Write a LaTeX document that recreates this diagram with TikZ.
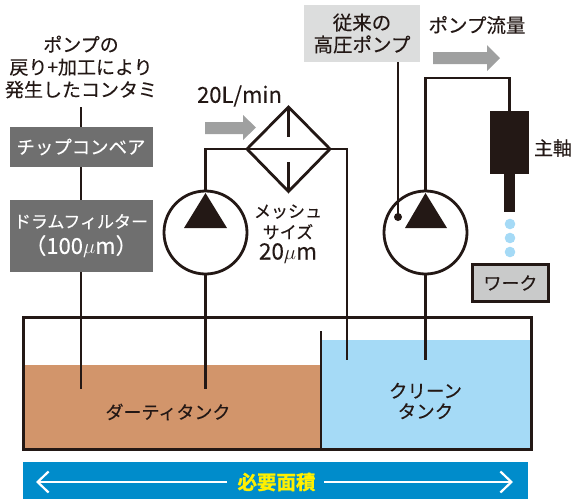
\documentclass[tikz,border=0pt]{standalone}
\usepackage{fontspec}
\setmainfont[FakeBold=0.25]{Noto Sans CJK JP}
\newfontfamily\boldcjk[FakeBold=1.2]{Noto Sans CJK JP Bold}
\usetikzlibrary{arrows.meta}
\definecolor{ink}{HTML}{231815}
\definecolor{dirty}{HTML}{D2956B}
\definecolor{clean}{HTML}{A5DAF6}
\definecolor{band}{HTML}{008CCB}
\definecolor{boxgray}{HTML}{6F6F6F}
\definecolor{lightbox}{HTML}{DCDDDD}
\definecolor{work}{HTML}{C9CACA}
\definecolor{arrowgray}{HTML}{9FA0A0}
\definecolor{signal}{HTML}{FFF000}
\newcommand{\fs}[2]{\fontsize{#1}{#2}\selectfont}
\tikzset{
  pipe/.style={draw=ink,line width=2.8pt},
  thin pipe/.style={draw=ink,line width=2.2pt},
  label/.style={text=ink,align=center,inner sep=0pt},
  graybox/.style={fill=boxgray,text=white,align=center,inner sep=0pt},
  pumpcircle/.style={circle,draw=ink,line width=2.8pt,fill=white,minimum size=83pt,inner sep=0pt},
  flowarrow/.style={fill=arrowgray,draw=none}
}
\begin{document}
\begin{tikzpicture}[x=1pt,y=-1pt]
\useasboundingbox (0,0) rectangle (571,499);
% liquids
\fill[dirty] (23,365) rectangle (321,449);
\fill[clean] (321,340) rectangle (531,449);
% tank
\node[draw=ink,line width=3pt,minimum width=508pt,minimum height=132pt,inner sep=0pt] (tank) at (277,383) {};
\coordinate (wallTop) at (321,331);
\coordinate (wallBot) at (321,449);
\draw[draw=ink,line width=2.2pt] (wallTop) -- (wallBot);
% pipe ends
\coordinate (dirtyA) at (81,389);
\coordinate (dirtyB) at (205.5,389);
\coordinate (cleanA) at (347,360);
\coordinate (cleanB) at (425.5,360);
% boxes
\node[label,font=\fs{19}{22.5}] (contam) at (81,67) {ポンプの\\戻り+加工により\\発生したコンタミ};
\coordinate (contamEnd) at (81,107);
\node[graybox,font=\fs{18.4}{20},minimum width=143pt,minimum height=40pt] (conv) at (81,147) {チップコンベア};
\node[graybox,font=\fs{17}{26},minimum width=143pt,minimum height=72pt] (drum) at (81,236) {\raisebox{-4pt}{ドラムフィルター}\\\raisebox{-4pt}{\fs{22}{26}（100$\mu$m）}};
\draw[thin pipe] (contamEnd) -- (conv.north);
\draw[thin pipe] (conv.south) -- (drum.north);
\draw[thin pipe] (drum.south) -- (dirtyA);
% pump left
\node[pumpcircle] (pumpL) at (205.5,232.5) {};
\fill[ink] (205.5,193) -- (227,228) -- (184,228) -- cycle;
% filter
\coordinate (fW) at (247,149);
\coordinate (fE) at (330,149);
\coordinate (fN) at (288.5,107);
\coordinate (fS) at (288.5,191.5);
\draw[pipe,line join=miter] (fN) -- (fE) -- (fS) -- (fW) -- cycle;
\draw[pipe] (fW) -- (fE);
\draw[pipe] (fN) -- (288.5,137);
\draw[pipe] (fS) -- (288.5,162);
\draw[pipe] (pumpL.north) -- (205.5,149) -- (fW);
\draw[pipe] (fE) -- (347,149) -- (cleanA);
\draw[pipe] (pumpL.south) -- (dirtyB);
\node[label,font=\fs{22}{24}] (rate) at (239.5,96) {20L/min};
\fill[flowarrow] (205,122) -- (243,122) -- (243,115) -- (256,127.5) -- (243,140) -- (243,134) -- (205,134) -- cycle;
\node[label,font=\fs{17}{21}] (mesh) at (288,234) {メッシュ\\サイズ\\{\fs{22.5}{21}20$\mu$m}};
% pump right
\node[pumpcircle] (pumpR) at (425.5,232.5) {};
\fill[ink] (425.5,193) -- (447,228) -- (405,228) -- cycle;
\draw[pipe] (pumpR.south) -- (cleanB);
% conventional
\node[label,font=\fs{19.5}{22},fill=lightbox,minimum width=116pt,minimum height=57pt] (conv2) at (362,33.5) {従来の\\高圧ポンプ};
\coordinate (dot) at (398,217);
\fill[ink] (dot) circle (4pt);
\draw[thin pipe] (398,62) -- (dot);
\node[label,font=\fs{19.5}{22}] (flow) at (477,25) {ポンプ流量};
\fill[flowarrow] (433,52) -- (487,52) -- (487,45) -- (500,58) -- (487,71) -- (487,64) -- (433,64) -- cycle;
% spindle
\node[fill=ink,minimum width=39pt,minimum height=63pt,inner sep=0pt] (spindle) at (509.5,142.5) {};
\fill[ink] (504,174) rectangle (515,212);
\draw[pipe] (pumpR.north) -- (425.5,78) -- (509.5,78) -- (spindle.north);
\node[label,font=\fs{19}{22}] (shaft) at (553,148) {主軸};
\fill[clean] (510,224) circle (5.3pt) (510,238) circle (5.3pt) (510,252) circle (5.3pt);
\node[label,font=\fs{18}{20},fill=work,draw=ink,line width=2.8pt,minimum width=76pt,minimum height=37pt] (work) at (510.5,283) {ワーク};
% tank labels
\node[label,font=\fs{18}{20}] (dlabel) at (168,412) {ダーティタンク};
\node[label,font=\fs{18.5}{20.5}] (clabel) at (425.5,401) {クリーン\\タンク};
% band
\fill[band] (23,462) rectangle (528,499);
\node[text=signal,font=\boldcjk\fs{19.5}{21},inner sep=0pt] (need) at (276.5,482) {必要面積};
\coordinate (bandL) at (36,482);
\coordinate (bandR) at (513,482);
\draw[white,line width=2.2pt,-{Straight Barb[length=11pt,width=21pt,line width=2.2pt]}] (227,482) -- (bandL);
\draw[white,line width=2.2pt,-{Straight Barb[length=11pt,width=21pt,line width=2.2pt]}] (324,482) -- (bandR);
\end{tikzpicture}
\end{document}
